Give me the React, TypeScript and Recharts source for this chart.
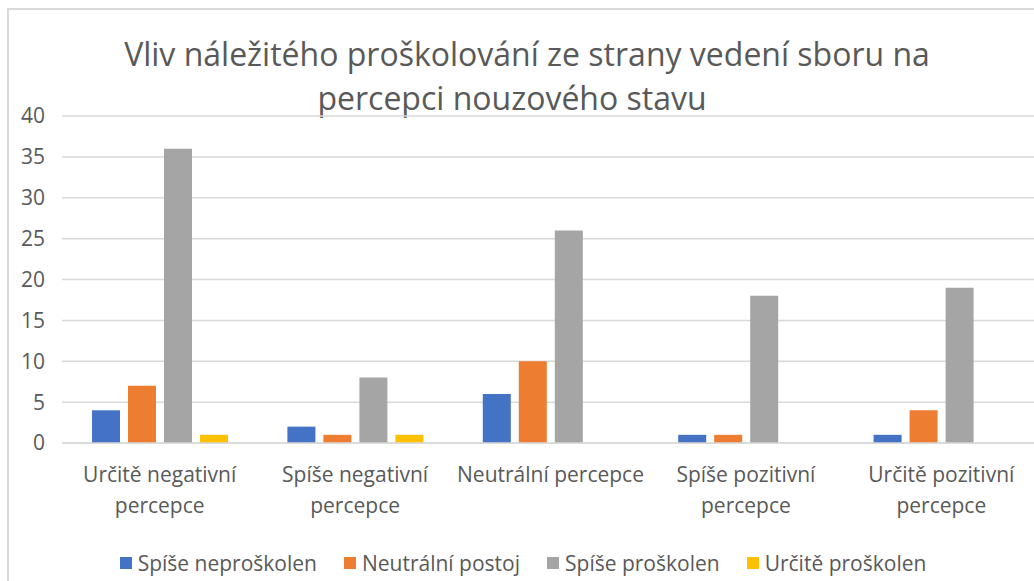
import { BarChart, Bar, XAxis, YAxis, CartesianGrid } from 'recharts'

const categories = [
  'Určitě negativní percepce',
  'Spíše negativní percepce',
  'Neutrální percepce',
  'Spíše pozitivní percepce',
  'Určitě pozitivní percepce',
]
const seriesNames = ['Spíše neproškolen', 'Neutrální postoj', 'Spíše proškolen', 'Určitě proškolen']
const seriesColors = ['#4472C4', '#ED7D31', '#A5A5A5', '#FFC000']

const spiseNeproskolen = [4, 2, 6, 1, 1]
const neutralniPostoj = [7, 1, 10, 1, 4]
const spiseProskolen = [36, 8, 26, 18, 19]
const urciteProskolen = [1, 1, 0, 0, 0]

const yTicks = [0, 5, 10, 15, 20, 25, 30, 35, 40]

const titleLines = ['Vliv náležitého proškolování ze strany vedení sboru na', 'percepci nouzového stavu']

const FONT = '"Open Sans", sans-serif'
const TEXT = '#595959'
const GRID = '#d9d9d9'

const data = categories.map((c, i) => ({
  name: c,
  s0: spiseNeproskolen[i],
  s1: neutralniPostoj[i],
  s2: spiseProskolen[i],
  s3: urciteProskolen[i],
}))

// wrap long category labels onto two lines, like Excel does
function wrapLabel(s: string) {
  if (s.length <= 20) return [s]
  const k = s.lastIndexOf(' ')
  return [s.slice(0, k), s.slice(k + 1)]
}

function CategoryTick(props: any) {
  const { x, y, payload } = props
  const lines = wrapLabel(payload.value)
  return (
    <text x={x} y={y} textAnchor="middle" fill={TEXT} fontSize={21} fontFamily={FONT}>
      {lines.map((l, i) => (
        <tspan key={i} x={x} dy={31}>{l}</tspan>
      ))}
    </text>
  )
}

export default function App() {
  const seriesKeys = ['s0', 's1', 's2', 's3']
  return (
    <div style={{ position: 'absolute', left: 0, top: 0, width: 1034, height: 581, overflow: 'hidden', background: '#fff', fontFamily: FONT }}>
      <div style={{
        position: 'absolute', left: 7, top: 8, width: 1100, height: 700,
        borderLeft: `2px solid ${GRID}`, borderTop: `2px solid ${GRID}`,
      }} />
      <div style={{ position: 'absolute', left: 527 - 500, top: 32, width: 1000, textAlign: 'center', fontSize: 32, color: TEXT, whiteSpace: 'nowrap', lineHeight: '44px' }}>
        {titleLines[0]}
      </div>
      <div style={{ position: 'absolute', left: 512 - 500, top: 76, width: 1000, textAlign: 'center', fontSize: 32, color: TEXT, whiteSpace: 'nowrap', lineHeight: '44px' }}>
        {titleLines[1]}
      </div>
      <div style={{ position: 'absolute', left: 0, top: 0 }}>
        <BarChart width={1050} height={540} data={data} margin={{ top: 116, right: 11, left: 0, bottom: 0 }} barSize={28} barGap={8}>
          <CartesianGrid vertical={false} stroke={GRID} strokeWidth={1.5} />
          <XAxis
            dataKey="name"
            height={97}
            axisLine={{ stroke: GRID, strokeWidth: 1.5 }}
            tickLine={false}
            interval={0}
            tick={<CategoryTick />}
          />
          <YAxis
            width={62}
            domain={[0, 40]}
            ticks={yTicks}
            axisLine={false}
            tickLine={false}
            tickMargin={11}
            tick={{ fill: TEXT, fontSize: 21, fontFamily: FONT }}
          />
          {seriesKeys.map((k, i) => (
            <Bar key={k} dataKey={k} name={seriesNames[i]} fill={seriesColors[i]} isAnimationActive={false} />
          ))}
        </BarChart>
      </div>
      <div style={{ position: 'absolute', left: 0, top: 549, width: 1046, display: 'flex', justifyContent: 'center', gap: 27, fontSize: 21, color: TEXT, lineHeight: '28px' }}>
        {seriesNames.map((n, i) => (
          <div key={n} style={{ display: 'flex', alignItems: 'center' }}>
            <span style={{ display: 'inline-block', width: 12, height: 12, background: seriesColors[i], marginRight: 6 }} />
            <span>{n}</span>
          </div>
        ))}
      </div>
    </div>
  )
}
